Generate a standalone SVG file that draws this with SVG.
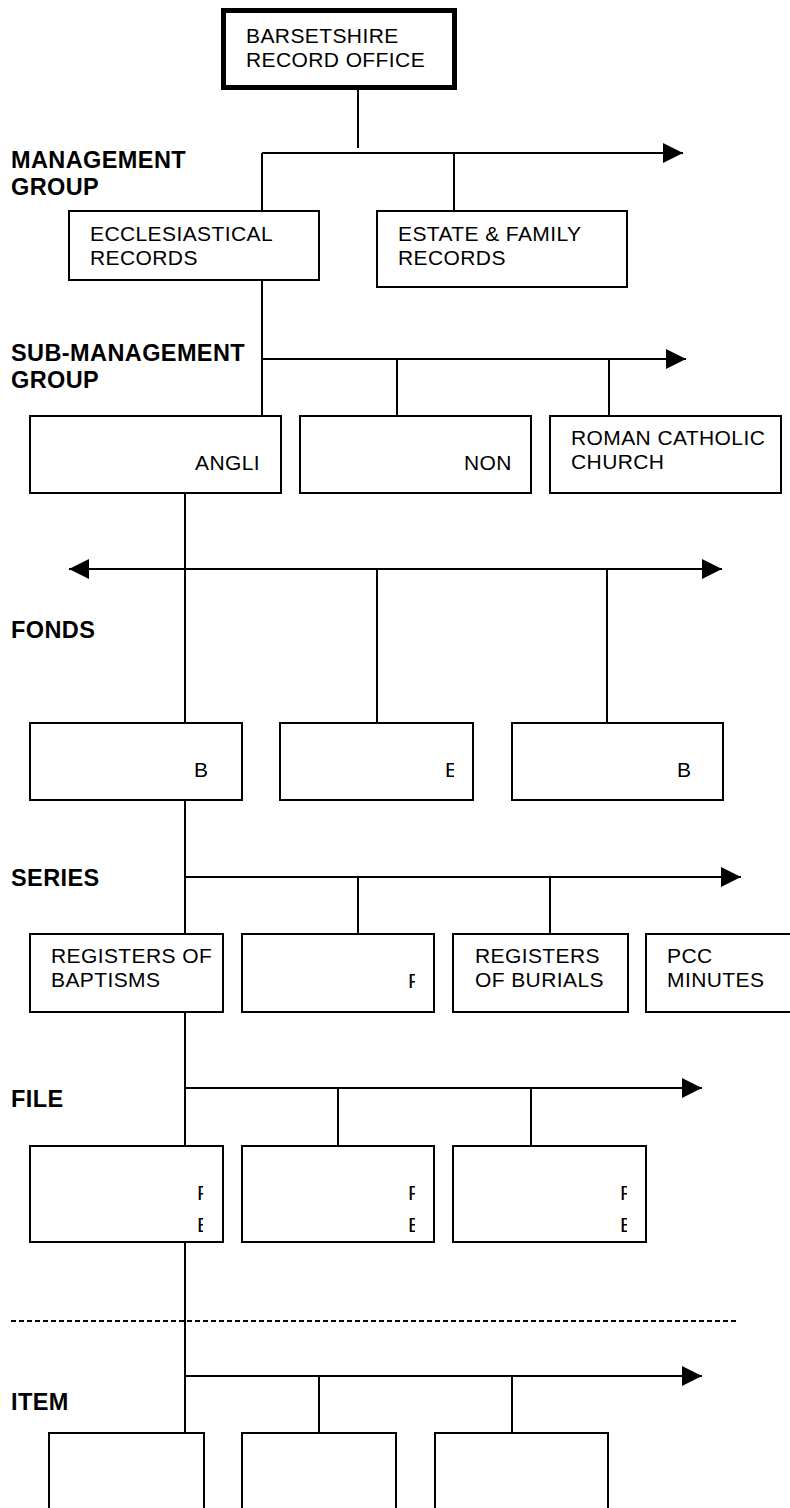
<svg xmlns="http://www.w3.org/2000/svg" width="790" height="1508" viewBox="0 0 790 1508">
<style>
.box{fill:#fff;stroke:#000;stroke-width:2}
.top{fill:#fff;stroke:#000;stroke-width:5}
.ln{stroke:#000;stroke-width:2;fill:none}
.dash{stroke:#000;stroke-width:2;fill:none;stroke-dasharray:5 3}
.t{font-family:"Liberation Sans",Arial,sans-serif;font-size:21px;letter-spacing:0.4px;fill:#000}
.lab{font-family:"Liberation Sans",Arial,sans-serif;font-size:23.5px;font-weight:bold;letter-spacing:0.4px;fill:#000}
</style>
<defs>
<marker id="arr" markerUnits="userSpaceOnUse" markerWidth="20" markerHeight="20" refX="20" refY="10" orient="auto"><path d="M0,0 L20,10 L0,20 z" fill="#000"/></marker>
<clipPath id="cE1"><rect x="440" y="740" width="14" height="50"/></clipPath>
<clipPath id="cF1"><rect x="400" y="960" width="15" height="40"/></clipPath>
<clipPath id="cFa"><rect x="190" y="1170" width="13" height="70"/></clipPath>
<clipPath id="cFb"><rect x="400" y="1170" width="15" height="70"/></clipPath>
<clipPath id="cFc"><rect x="612" y="1170" width="15" height="70"/></clipPath>
</defs>

<g id="labels">
<text class="lab" x="11" y="168">MANAGEMENT</text>
<text class="lab" x="11" y="195">GROUP</text>
<text class="lab" x="11" y="361">SUB-MANAGEMENT</text>
<text class="lab" x="11" y="388">GROUP</text>
<text class="lab" x="11" y="638">FONDS</text>
<text class="lab" x="11" y="886">SERIES</text>
<text class="lab" x="11" y="1107">FILE</text>
<text class="lab" x="11" y="1410">ITEM</text>
</g>

<g id="connectors">
<path class="ln" d="M358,90 V148"/>
<path class="ln" d="M262,153 H683" marker-end="url(#arr)"/>
<path class="ln" d="M262,153 V211 M454,153 V211"/>
<path class="ln" d="M262,280 V416"/>
<path class="ln" d="M262,359 H686" marker-end="url(#arr)"/>
<path class="ln" d="M397,359 V416 M609,359 V416"/>
<path class="ln" d="M185,493 V723"/>
<path class="ln" d="M185,569 H722" marker-end="url(#arr)"/>
<path class="ln" d="M185,569 H69" marker-end="url(#arr)"/>
<path class="ln" d="M377,569 V723 M607,569 V723"/>
<path class="ln" d="M185,800 V934"/>
<path class="ln" d="M185,877 H741" marker-end="url(#arr)"/>
<path class="ln" d="M358,877 V934 M550,877 V934"/>
<path class="ln" d="M185,1012 V1146"/>
<path class="ln" d="M185,1088 H702" marker-end="url(#arr)"/>
<path class="ln" d="M338,1088 V1146 M531,1088 V1146"/>
<path class="ln" d="M185,1242 V1433"/>
<path class="dash" d="M11,1321 H738"/>
<path class="ln" d="M185,1376 H702" marker-end="url(#arr)"/>
<path class="ln" d="M319,1376 V1433 M512,1376 V1433"/>
</g>

<g id="n-barsetshire">
<rect class="top" x="223.5" y="10.5" width="231" height="77"/>
<text class="t" x="246" y="43">BARSETSHIRE</text>
<text class="t" x="246" y="67">RECORD OFFICE</text>
</g>
<g id="n-ecclesiastical">
<rect class="box" x="69" y="211" width="250" height="69"/>
<text class="t" x="90" y="241">ECCLESIASTICAL</text>
<text class="t" x="90" y="265">RECORDS</text>
</g>
<g id="n-estate">
<rect class="box" x="377" y="211" width="250" height="76"/>
<text class="t" x="398" y="241">ESTATE &amp; FAMILY</text>
<text class="t" x="398" y="265">RECORDS</text>
</g>
<g id="n-angli">
<rect class="box" x="30" y="416" width="251" height="77"/>
<text class="t" x="195" y="470">ANGLI</text>
</g>
<g id="n-non">
<rect class="box" x="300" y="416" width="231" height="77"/>
<text class="t" x="464" y="470">NON</text>
</g>
<g id="n-rc">
<rect class="box" x="550" y="416" width="231" height="77"/>
<text class="t" x="571" y="445">ROMAN CATHOLIC</text>
<text class="t" x="571" y="469">CHURCH</text>
</g>
<g id="n-fonds1">
<rect class="box" x="30" y="723" width="212" height="77"/>
<text class="t" x="194" y="777">B</text>
</g>
<g id="n-fonds2">
<rect class="box" x="280" y="723" width="193" height="77"/>
<text class="t" x="445" y="777" clip-path="url(#cE1)">E</text>
</g>
<g id="n-fonds3">
<rect class="box" x="512" y="723" width="211" height="77"/>
<text class="t" x="677" y="777">B</text>
</g>
<g id="n-series1">
<rect class="box" x="30" y="934" width="193" height="78"/>
<text class="t" x="51" y="963">REGISTERS OF</text>
<text class="t" x="51" y="987">BAPTISMS</text>
</g>
<g id="n-series2">
<rect class="box" x="242" y="934" width="192" height="78"/>
<text class="t" x="408" y="988" clip-path="url(#cF1)">F</text>
</g>
<g id="n-series3">
<rect class="box" x="453" y="934" width="175" height="78"/>
<text class="t" x="475" y="963">REGISTERS</text>
<text class="t" x="475" y="987">OF BURIALS</text>
</g>
<g id="n-series4">
<rect class="box" x="646" y="934" width="160" height="78"/>
<text class="t" x="667" y="963">PCC</text>
<text class="t" x="667" y="987">MINUTES</text>
</g>
<g id="n-file1">
<rect class="box" x="30" y="1146" width="193" height="96"/>
<g clip-path="url(#cFa)">
<text class="t" x="197" y="1200">F</text>
<text class="t" x="197" y="1232">E</text>
</g>
</g>
<g id="n-file2">
<rect class="box" x="242" y="1146" width="192" height="96"/>
<g clip-path="url(#cFb)">
<text class="t" x="408" y="1200">F</text>
<text class="t" x="408" y="1232">E</text>
</g>
</g>
<g id="n-file3">
<rect class="box" x="453" y="1146" width="193" height="96"/>
<g clip-path="url(#cFc)">
<text class="t" x="620" y="1200">F</text>
<text class="t" x="620" y="1232">E</text>
</g>
</g>
<g id="n-item1">
<rect class="box" x="49" y="1433" width="155" height="90"/>
</g>
<g id="n-item2">
<rect class="box" x="242" y="1433" width="154" height="90"/>
</g>
<g id="n-item3">
<rect class="box" x="435" y="1433" width="173" height="90"/>
</g>
</svg>
